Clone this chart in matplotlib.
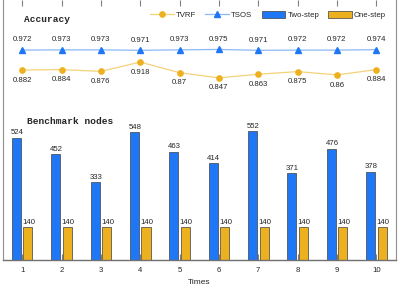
import matplotlib
matplotlib.use('Agg')
import matplotlib.pyplot as plt
import numpy as np

times = [1, 2, 3, 4, 5, 6, 7, 8, 9, 10]
tvrf = [0.882, 0.884, 0.876, 0.918, 0.87, 0.847, 0.863, 0.875, 0.86, 0.884]
tsos = [0.972, 0.973, 0.973, 0.971, 0.973, 0.975, 0.971, 0.972, 0.972, 0.974]
two_step = [524, 452, 333, 548, 463, 414, 552, 371, 476, 378]
one_step = [140, 140, 140, 140, 140, 140, 140, 140, 140, 140]

blue = '#1f77f5'
orange = '#edb120'
txt = '#262626'
plt.rcParams['font.family'] = ['Liberation Sans', 'DejaVu Sans']

fig = plt.figure(figsize=(3.99, 2.85), dpi=100)
ax = fig.add_axes([2.5/399, 25/285, 393.5/399, 260/285])
x = np.array(times)
w = 0.23
off = 0.147

# bars
b1 = ax.bar(x - off, two_step, w, color=blue, edgecolor='#404040', linewidth=0.5, label='Two-step')
b2 = ax.bar(x + off, one_step, w, color=orange, edgecolor='#404040', linewidth=0.5, label='One-step')
for xi, v in zip(x, two_step):
    ax.text(xi - off + 0.02, v + 6, str(v), ha='center', va='bottom', fontsize=5.6, color=txt)
for xi, v in zip(x, one_step):
    ax.text(xi + off + 0.02, v + 6, str(v), ha='center', va='bottom', fontsize=5.6, color=txt)
ax.set_xlim(0.5, 10.5)
ax.set_ylim(0, 1113)
ax.set_xticks(x)
ax.set_xticklabels([str(t) for t in times])
ax.set_yticks([])
ax.tick_params(axis='x', direction='in', top=True, length=4, labelsize=5.6,
               colors='#808080', labelcolor=txt, pad=5)
ax.set_xlabel('Times', fontsize=6, color=txt, labelpad=4)
for s in ax.spines.values():
    s.set_color('#909090')
    s.set_linewidth(0.8)
ax.spines['top'].set_visible(False)
ax.spines['bottom'].set_color('#707070')
ax.spines['bottom'].set_linewidth(1.0)

# accuracy lines
ax2 = ax.twinx()
ax2.set_ylim(0.025, 1.198)
ax2.set_yticks([])
ax2.spines[:].set_visible(False)
l1, = ax2.plot(x, tvrf, color='#f5d27a', lw=0.9, marker='o', ms=3.8,
               mfc=orange, mec=orange, label='TVRF')
l2, = ax2.plot(x, tsos, color='#8db8f5', lw=0.9, marker='^', ms=4,
               mfc=blue, mec=blue, label='TSOS')
for xi, v in zip(x, tvrf):
    ax2.text(xi, v - 0.03, f'{v:g}', ha='center', va='top', fontsize=5.6, color=txt)
for xi, v in zip(x, tsos):
    ax2.text(xi, v + 0.03, f'{v:g}', ha='center', va='bottom', fontsize=5.6, color=txt)

fig.text(24/399, 1 - 19.5/285, 'Accuracy', family='Liberation Mono', weight='bold',
         fontsize=6.8, color=txt, va='center')
fig.text(27/399, 1 - 122/285, 'Benchmark nodes', family='Liberation Mono', weight='bold',
         fontsize=6.8, color=txt, va='center')

leg = fig.legend(handles=[l1, l2, b1, b2], ncol=4, loc='center right',
                 bbox_to_anchor=(390/399, 1 - 15/285), frameon=False, fontsize=5.6,
                 handlelength=3.0, handleheight=1.0, handletextpad=0.3,
                 columnspacing=1.2, borderpad=0)
for t in leg.get_texts():
    t.set_color(txt)

fig.savefig('out.png', dpi=100)
